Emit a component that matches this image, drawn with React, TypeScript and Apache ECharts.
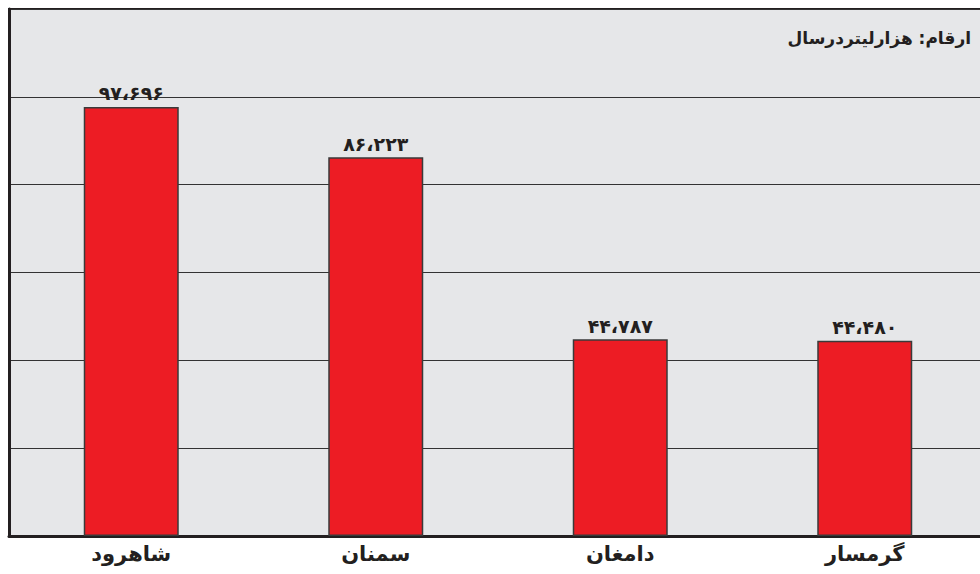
import React, { useEffect, useRef } from "react";
import * as echarts from "echarts";

const categories = ["شاهرود", "سمنان", "دامغان", "گرمسار"];
const values = [97696, 86223, 44787, 44480];
const unitNote = "ارقام: هزارلیتردرسال";
const yMin = 0;
const yMax = 120000;
const yInterval = 20000;

const persianDigits = "۰۱۲۳۴۵۶۷۸۹";
function toPersian(n: number): string {
  const s = n.toLocaleString("en-US");
  return s
    .split("")
    .map((c) => (c >= "0" && c <= "9" ? persianDigits[+c] : c === "," ? "،" : c))
    .join("");
}

const FONT = "'DejaVu Sans', sans-serif";

export default function App() {
  const ref = useRef<HTMLDivElement>(null);
  useEffect(() => {
    if (!ref.current) return;
    const chart = echarts.init(ref.current, undefined, { renderer: "svg" });
    chart.setOption({
      animation: false,
      backgroundColor: "#ffffff",
      grid: {
        left: 9,
        top: 9,
        width: 978,
        height: 527,
        outerBoundsMode: "none",
        containLabel: false,
        show: true,
        backgroundColor: "#e6e7e9",
        borderColor: "#231f20",
        borderWidth: 2,
      },
      graphic: [
        {
          type: "text",
          right: 9,
          top: 29,
          style: {
            text: unitNote,
            font: `bold 17px ${FONT}`,
            fill: "#231f20",
            textAlign: "right",
          },
        },
      ],
      xAxis: {
        type: "category",
        data: categories,
        axisLine: { show: true, lineStyle: { color: "#231f20", width: 3 } },
        axisTick: { show: false },
        axisLabel: {
          color: "#231f20",
          fontFamily: FONT,
          fontWeight: "bold",
          fontSize: 21,
          margin: 7,
        },
      },
      yAxis: {
        type: "value",
        min: yMin,
        max: yMax,
        interval: yInterval,
        axisLine: { show: true, lineStyle: { color: "#231f20", width: 3 } },
        axisTick: { show: false },
        axisLabel: { show: false },
        splitLine: { show: true, lineStyle: { color: "#333333", width: 1 } },
      },
      series: [
        {
          type: "bar",
          data: values,
          barWidth: 95,
          itemStyle: { color: "#ed1c24", borderColor: "#3a3a3a", borderWidth: 1.5 },
          label: {
            show: true,
            position: "top",
            distance: 4,
            color: "#231f20",
            fontFamily: FONT,
            fontWeight: "bold",
            fontSize: 19,
            formatter: (p: any) => toPersian(p.value),
          },
        },
      ],
    });
    return () => chart.dispose();
  }, []);
  return (
    <div
      ref={ref}
      style={{ position: "fixed", left: 0, top: 0, width: 980, height: 574 }}
    />
  );
}
